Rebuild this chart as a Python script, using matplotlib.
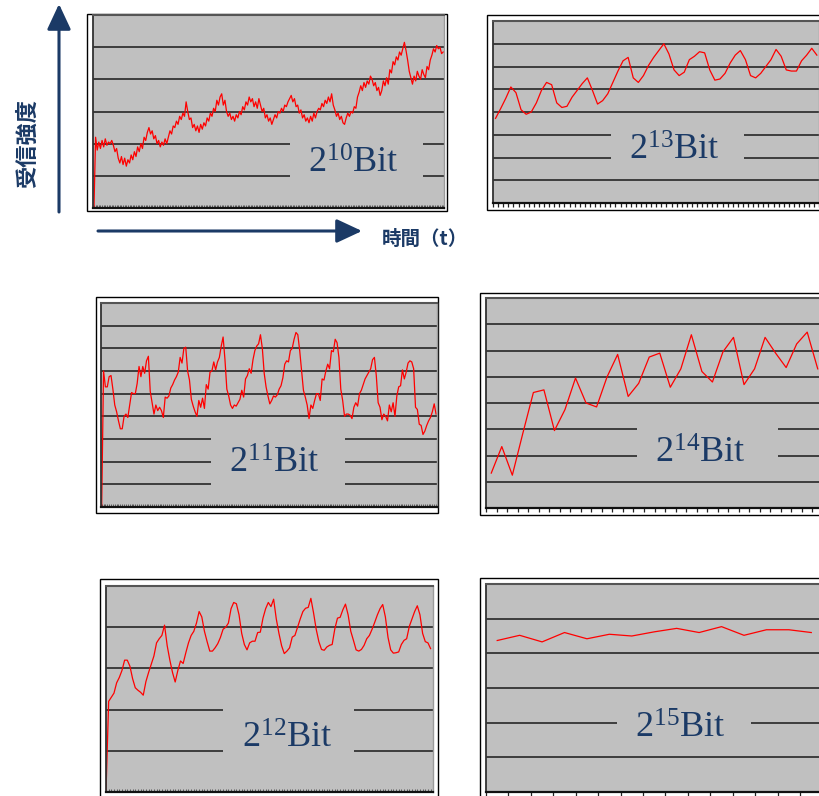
import numpy as np
import matplotlib.pyplot as plt
from matplotlib.patches import Rectangle

W, H = 819, 796
NAVY = '#1B3A66'
PLOT_GRAY = '#C0C0C0'

# received signal strength, one list per bit length (grid units)
sig_2_10 = [
    0, 2.2, 1.8, 2.05, 1.85, 2.1, 1.9, 2.15, 1.95, 2.05,
    2.0, 2.1, 1.95, 1.75, 1.85, 1.55, 1.4, 1.6, 1.35, 1.55,
    1.3, 1.5, 1.4, 1.65, 1.5, 1.75, 1.6, 1.9, 1.75, 2.0,
    1.85, 2.2, 2.1, 2.35, 2.5, 2.3, 2.4, 2.15, 2.25, 2.0,
    2.1, 1.9, 2.05, 1.95, 2.15, 2.0, 2.2, 2.4, 2.3, 2.55,
    2.5, 2.7, 2.6, 2.85, 2.75, 2.95, 2.85, 3.3, 3.0, 2.75,
    2.8, 2.5, 2.6, 2.4, 2.55, 2.35, 2.6, 2.45, 2.65, 2.55,
    2.8, 2.7, 2.95, 2.85, 3.1, 3.0, 3.35, 3.2, 3.45, 3.55,
    3.2, 3.35, 3.0, 2.85, 2.95, 2.75, 2.85, 2.7, 2.9, 2.8,
    3.0, 2.9, 3.15, 3.05, 3.3, 3.2, 3.45, 3.3, 3.4, 3.15,
    3.3, 3.1, 3.4, 3.2, 3.0, 3.1, 2.8, 2.9, 2.7, 2.8,
    2.6, 2.75, 2.9, 2.8, 3.0, 2.95, 3.1, 3.0, 3.2, 3.15,
    3.3, 3.4, 3.5, 3.3, 3.4, 3.15, 3.2, 2.95, 3.05, 2.8,
    2.9, 2.7, 2.8, 2.65, 2.85, 2.7, 2.95, 2.8, 3.0, 3.1,
    3.05, 3.25, 3.15, 3.35, 3.25, 3.45, 3.3, 3.55, 3.2, 3.05,
    2.85, 2.95, 2.75, 2.85, 2.65, 2.6, 2.8, 2.95, 2.85, 3.0,
    2.95, 3.15, 3.1, 3.45, 3.6, 3.8, 3.65, 3.9, 3.75, 3.95,
    3.85, 4.1, 4.0, 3.8, 3.9, 3.65, 3.75, 3.5, 3.65, 3.95,
    3.8, 4.05, 3.85, 4.3, 4.2, 4.55, 4.45, 4.7, 4.6, 4.85,
    4.75, 4.95, 5.15, 4.9, 4.6, 4.25, 4.05, 3.85, 4.1, 3.95,
    4.25, 4.1, 4.0, 4.3, 4.15, 4.05, 4.4, 4.3, 4.6, 4.75,
    4.95, 4.85, 5.05, 4.95, 5.0, 4.8, 4.85,
]

sig_2_11 = [
    0, 6.0, 5.3, 5.3, 5.75, 5.8, 5.2, 4.5, 4.2, 3.8,
    3.45, 3.45, 4.0, 4.1, 3.95, 4.5, 5.05, 5.0, 5.0, 5.45,
    6.2, 5.75, 6.2, 5.9, 6.45, 6.65, 5.1, 4.6, 4.1, 4.5,
    4.25, 4.4, 4.25, 3.95, 4.85, 4.8, 4.9, 5.25, 5.4, 5.6,
    5.75, 5.95, 6.6, 6.35, 7.0, 7.05, 6.0, 5.6, 4.75, 4.45,
    4.2, 4.0, 4.7, 4.4, 4.8, 4.35, 5.4, 5.2, 5.95, 6.0,
    6.4, 6.05, 6.4, 6.6, 7.1, 7.5, 6.5, 5.2, 4.9, 4.5,
    4.35, 4.5, 4.45, 4.6, 4.75, 5.15, 4.85, 5.65, 5.8, 6.1,
    5.9, 6.5, 6.9, 7.1, 7.2, 7.6, 7.0, 5.9, 5.3, 4.9,
    4.55, 4.7, 4.9, 4.85, 4.95, 5.2, 5.35, 5.7, 6.3, 6.45,
    6.4, 6.9, 7.0, 7.4, 7.7, 7.6, 6.9, 6.0, 5.15, 4.85,
    4.5, 3.9, 4.5, 4.35, 4.7, 5.0, 5.0, 4.7, 5.65, 5.6,
    6.0, 6.3, 6.1, 6.9, 6.85, 7.4, 7.25, 6.6, 5.2, 4.7,
    4.0, 4.1, 4.1, 4.05, 3.9, 4.4, 4.6, 4.45, 5.0, 5.15,
    5.4, 5.65, 5.8, 5.95, 6.1, 6.5, 6.6, 5.8, 4.6, 4.4,
    3.85, 4.1, 4.0, 3.8, 4.5, 4.2, 4.6, 4.0, 4.9, 5.3,
    5.35, 6.05, 5.65, 5.95, 6.35, 6.45, 6.4, 6.1, 4.4, 4.3,
    3.65, 3.6, 3.2, 3.35, 3.6, 3.8, 3.95, 4.2, 4.55, 4.1,
]

sig_2_12 = [
    0, 2.2, 2.3, 2.4, 2.65, 2.78, 2.95, 3.2, 3.2, 3.05,
    2.75, 2.53, 2.47, 2.42, 2.35, 2.68, 2.9, 3.1, 3.3, 3.62,
    3.72, 3.8, 4.05, 3.55, 3.2, 2.9, 2.67, 2.95, 3.18, 3.12,
    3.38, 3.62, 3.8, 3.9, 4.1, 4.38, 4.25, 3.9, 3.65, 3.42,
    3.42, 3.5, 3.6, 3.75, 3.95, 4.0, 4.1, 4.45, 4.6, 4.57,
    4.3, 3.85, 3.58, 3.45, 3.62, 3.66, 3.66, 3.87, 3.88, 4.22,
    4.45, 4.6, 4.5, 4.68, 4.2, 3.85, 3.55, 3.36, 3.42, 3.5,
    3.76, 3.8, 4.0, 4.2, 4.38, 4.46, 4.48, 4.7, 4.35, 3.95,
    3.65, 3.46, 3.44, 3.52, 3.56, 3.58, 3.96, 4.22, 4.24, 4.42,
    4.56, 4.3, 3.9, 3.68, 3.45, 3.42, 3.46, 3.56, 3.72, 3.8,
    3.95, 4.12, 4.3, 4.45, 4.55, 4.25, 3.75, 3.45, 3.37, 3.38,
    3.4, 3.58, 3.68, 3.72, 4.02, 4.2, 4.38, 4.52, 4.3, 3.85,
    3.65, 3.62, 3.48,
]

sig_2_13 = [
    3.72, 4.15, 4.6, 5.1, 4.85, 4.1, 3.9, 4.0, 4.4, 4.95,
    5.3, 5.2, 4.4, 4.2, 4.25, 4.65, 4.95, 5.25, 5.5, 4.95,
    4.35, 4.5, 4.8, 5.3, 5.8, 6.25, 6.4, 5.5, 5.3, 5.6,
    6.05, 6.4, 6.7, 7.0, 6.55, 5.85, 5.6, 5.75, 6.3, 6.45,
    6.65, 6.6, 5.85, 5.4, 5.45, 5.7, 6.15, 6.5, 6.7, 6.3,
    5.6, 5.5, 5.7, 6.0, 6.3, 6.75, 6.45, 5.85, 5.8, 5.8,
    6.25, 6.5, 6.8, 6.5,
]

sig_2_14 = [
    1.33, 2.34, 1.25, 2.85, 4.4, 4.5, 2.95, 3.75, 4.95, 4.0,
    3.85, 5.0, 5.85, 4.25, 4.75, 5.75, 5.9, 4.6, 5.3, 6.6,
    5.2, 4.8, 5.95, 6.5, 4.7, 5.3, 6.5, 5.9, 5.35, 6.25,
    6.7, 5.3,
]

sig_2_15 = [
    4.37, 4.52, 4.33, 4.6, 4.42, 4.55, 4.5, 4.62, 4.72, 4.6,
    4.77, 4.52, 4.68, 4.68, 4.6,
]

# layout in pixels: frame box, plot box, y range, gridline gaps behind the label
panels = [
    dict(sig=sig_2_10, exp='10', frame=(87, 14, 447, 211), plot=(93, 15, 444, 208),
         ytop=6, xlim=(-0.6, 216.5), gap_rows=[1, 2], gap=(290, 423), text=(353, 164), dense=True),
    dict(sig=sig_2_13, exp='13', frame=(487, 15, 825, 210), plot=(493, 21, 819.4, 203),
         ytop=8, xlim=(-0.5, 63.5), gap_rows=[2, 3], gap=(611, 744), text=(674, 151), dense=False),
    dict(sig=sig_2_11, exp='11', frame=(96, 297, 438, 513), plot=(101, 303, 437, 507),
         ytop=9, xlim=(-0.36, 179.5), gap_rows=[1, 2, 3], gap=(211, 345), text=(274, 464), dense=True),
    dict(sig=sig_2_14, exp='14', frame=(480, 293, 830, 515), plot=(486, 298, 823, 508),
         ytop=8, xlim=(-0.5, 31.5), gap_rows=[2, 3], gap=(637, 778), text=(700, 454), dense=False),
    dict(sig=sig_2_12, exp='12', frame=(100, 579, 438, 800), plot=(106, 586, 433, 792),
         ytop=5, xlim=(0, 122.9), gap_rows=[1, 2], gap=(223, 354), text=(287, 739), dense=True),
    dict(sig=sig_2_15, exp='15', frame=(480, 578, 830, 800), plot=(486, 584, 822.5, 792),
         ytop=6, xlim=(-0.5, 14.5), gap_rows=[2], gap=(617, 751), text=(680, 729), dense=False),
]


def fig_rect(x0, y0, x1, y1):
    return [x0 / W, 1 - y1 / H, (x1 - x0) / W, (y1 - y0) / H]


fig = plt.figure(figsize=(W / 100, H / 100), dpi=100)

for p in panels:
    fx0, fy0, fx1, fy1 = p['frame']
    fig.add_artist(Rectangle((fx0 / W, 1 - fy1 / H), (fx1 - fx0) / W, (fy1 - fy0) / H,
                             transform=fig.transFigure, facecolor='white',
                             edgecolor='black', lw=1, zorder=-1))

    ax = fig.add_axes(fig_rect(*p['plot']))
    ax.set_facecolor(PLOT_GRAY)
    n = len(p['sig'])
    ax.set_xlim(*p['xlim'])
    ax.set_ylim(0, p['ytop'])

    # gridlines, broken where the label sits
    px0, _, px1, _ = p['plot']
    g0 = (p['gap'][0] - px0) / (px1 - px0)
    g1 = (p['gap'][1] - px0) / (px1 - px0)
    tr = ax.get_yaxis_transform()
    for row in range(1, p['ytop']):
        if row in p['gap_rows']:
            ax.hlines(row, 0, g0, colors='#1a1a1a', lw=1.1, transform=tr)
            ax.hlines(row, g1, 1, colors='#1a1a1a', lw=1.1, transform=tr)
        else:
            ax.hlines(row, 0, 1, colors='#1a1a1a', lw=1.1, transform=tr)

    ax.plot(np.arange(n), p['sig'], color='red', lw=0.9)

    if p['dense']:
        ax.set_xticks(np.arange(0, n, 1))
        ax.tick_params(axis='x', direction='in', length=2.5, width=0.5, color='#333333')
    else:
        ax.set_xticks(np.arange(-0.5, n + 0.5, 1))
        ax.tick_params(axis='x', direction='out', length=3, width=0.9, color='#222222')
    ax.set_yticks([])
    ax.tick_params(labelbottom=False, labelleft=False)

    ax.spines['left'].set_color('#333333')
    ax.spines['left'].set_linewidth(1.3)
    ax.spines['bottom'].set_color('#111111')
    ax.spines['bottom'].set_linewidth(1.6)
    ax.spines['top'].set_color('#555555')
    ax.spines['top'].set_linewidth(1.5)
    ax.spines['right'].set_color('#9a9a9a')
    ax.spines['right'].set_linewidth(1.0)

# overlay in pixel coordinates for arrows and labels
ov = fig.add_axes([0, 0, 1, 1], zorder=10)
ov.set_xlim(0, W)
ov.set_ylim(H, 0)
ov.axis('off')
ov.patch.set_alpha(0)

arrow = dict(arrowstyle='-|>,head_length=0.6,head_width=0.28', color=NAVY, lw=2.2,
             mutation_scale=26, shrinkA=0, shrinkB=0)
ov.annotate('', xy=(59, 4), xytext=(59, 212), arrowprops=arrow)
ov.annotate('', xy=(362, 231), xytext=(98, 231), arrowprops=arrow)

ov.text(28, 143, '受信強度', rotation=90, ha='center', va='center', color=NAVY,
        fontsize=16, fontweight='bold', family=['Noto Sans CJK JP', 'DejaVu Sans'])
ov.text(382, 239, '時間（t）', ha='left', va='center', color=NAVY,
        fontsize=14, fontweight='bold', family=['Noto Sans CJK JP', 'DejaVu Sans'])

for p in panels:
    tx, ty = p['text']
    ov.text(tx, ty, r'$\mathregular{2^{%s}}$Bit' % p['exp'], ha='center', va='center',
            color=NAVY, fontsize=26, family='Liberation Serif')

fig.savefig('out.png', dpi=100)
